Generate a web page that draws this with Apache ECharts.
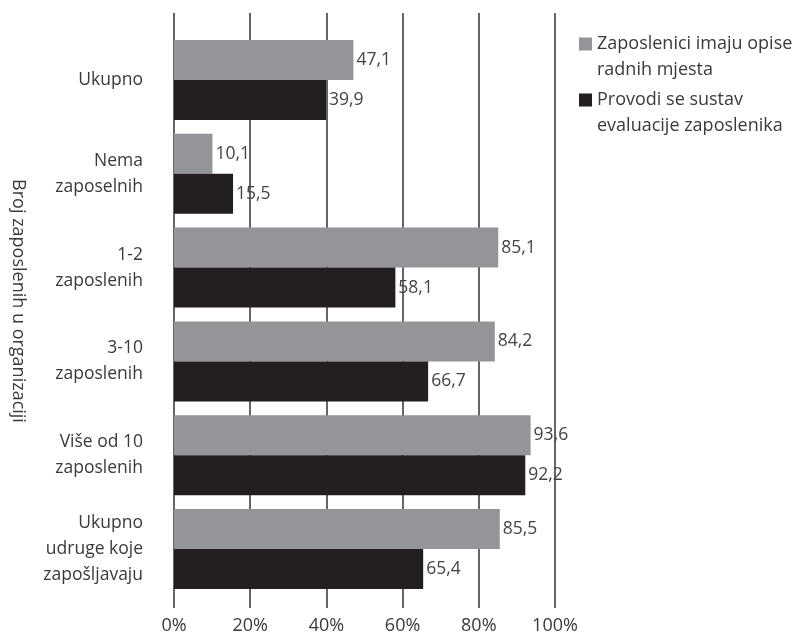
<!DOCTYPE html>
<html>
<head>
<meta charset="utf-8">
<script src="https://cdn.jsdelivr.net/npm/echarts@6/dist/echarts.min.js"></script>
<style>
html,body{margin:0;padding:0;background:#fff;}
#chart{width:795px;height:637px;}
</style>
</head>
<body>
<div id="chart"></div>
<script>
const categories = [
  'Ukupno',
  'Nema\nzaposelnih',
  '1-2\nzaposlenih',
  '3-10\nzaposlenih',
  'Više od 10\nzaposlenih',
  'Ukupno\nudruge koje\nzapošljavaju'
];
const seriesNames = [
  'Zaposlenici imaju opise\nradnih mjesta',
  'Provodi se sustav\nevaluacije zaposlenika'
];
const opisiMjesta = [47.1, 10.1, 85.1, 84.2, 93.6, 85.5];
const evaluacija = [39.9, 15.5, 58.1, 66.7, 92.2, 65.4];
const tickValues = [0, 20, 40, 60, 80, 100];
const axisTitle = 'Broj zaposlenih u organizaciji';

const FONT = '"Open Sans", "Liberation Sans", sans-serif';
const fmt = v => v.toFixed(1).replace('.', ',');
const legendIcon = 'path://M0,6.5h13v13h-13z M0,0L0.01,0 M0,52L0.01,52';

const chart = echarts.init(document.getElementById('chart'), null, {renderer: 'canvas'});
chart.setOption({
  animation: false,
  backgroundColor: '#ffffff',
  textStyle: {fontFamily: FONT},
  grid: [
    {left: 174, width: 381, top: 13, height: 595},
    {left: 174, width: 381, top: 33, height: 563}
  ],
  xAxis: [
    {
      gridIndex: 0, type: 'value', min: tickValues[0], max: tickValues[tickValues.length - 1],
      interval: tickValues[1] - tickValues[0],
      axisLine: {show: false}, axisTick: {show: false},
      splitLine: {show: true, lineStyle: {color: '#333333', width: 1.5}},
      axisLabel: {formatter: '{value}%', fontSize: 18, color: '#3a3a3a', margin: 9, fontFamily: FONT}
    },
    {
      gridIndex: 1, type: 'value', min: 0, max: 100, show: false
    }
  ],
  yAxis: [
    {gridIndex: 0, type: 'value', show: false},
    {
      gridIndex: 1, type: 'category', data: categories, inverse: true,
      axisLine: {show: false}, axisTick: {show: false}, splitLine: {show: false},
      axisLabel: {fontSize: 17.5, lineHeight: 26, color: '#3a3a3a', margin: 31, align: 'right', fontFamily: FONT}
    }
  ],
  legend: {
    orient: 'vertical', left: 579, top: 31, padding: 0, itemWidth: 13, itemHeight: 52, itemGap: 4,
    icon: legendIcon, selectedMode: false,
    textStyle: {fontSize: 18, lineHeight: 26, color: '#3a3a3a', fontFamily: FONT},
    data: seriesNames
  },
  graphic: [{
    type: 'text', x: 18, y: 301, rotation: -Math.PI / 2,
    style: {text: axisTitle, fontSize: 18, fill: '#3a3a3a', fontFamily: FONT, align: 'center', verticalAlign: 'middle'}
  }],
  series: [
    {
      name: seriesNames[0], type: 'bar', xAxisIndex: 1, yAxisIndex: 1, data: opisiMjesta,
      barWidth: 40, barGap: '0%',
      itemStyle: {color: '#939598'},
      label: {show: true, position: 'right', distance: 3, fontSize: 17.5, color: '#444444', fontFamily: FONT,
              formatter: p => fmt(p.value)}
    },
    {
      name: seriesNames[1], type: 'bar', xAxisIndex: 1, yAxisIndex: 1, data: evaluacija,
      barWidth: 40, barGap: '0%',
      itemStyle: {color: '#231f20'},
      label: {show: true, position: 'right', distance: 3, fontSize: 17.5, color: '#444444', fontFamily: FONT,
              formatter: p => fmt(p.value)}
    }
  ]
});
</script>
</body>
</html>
